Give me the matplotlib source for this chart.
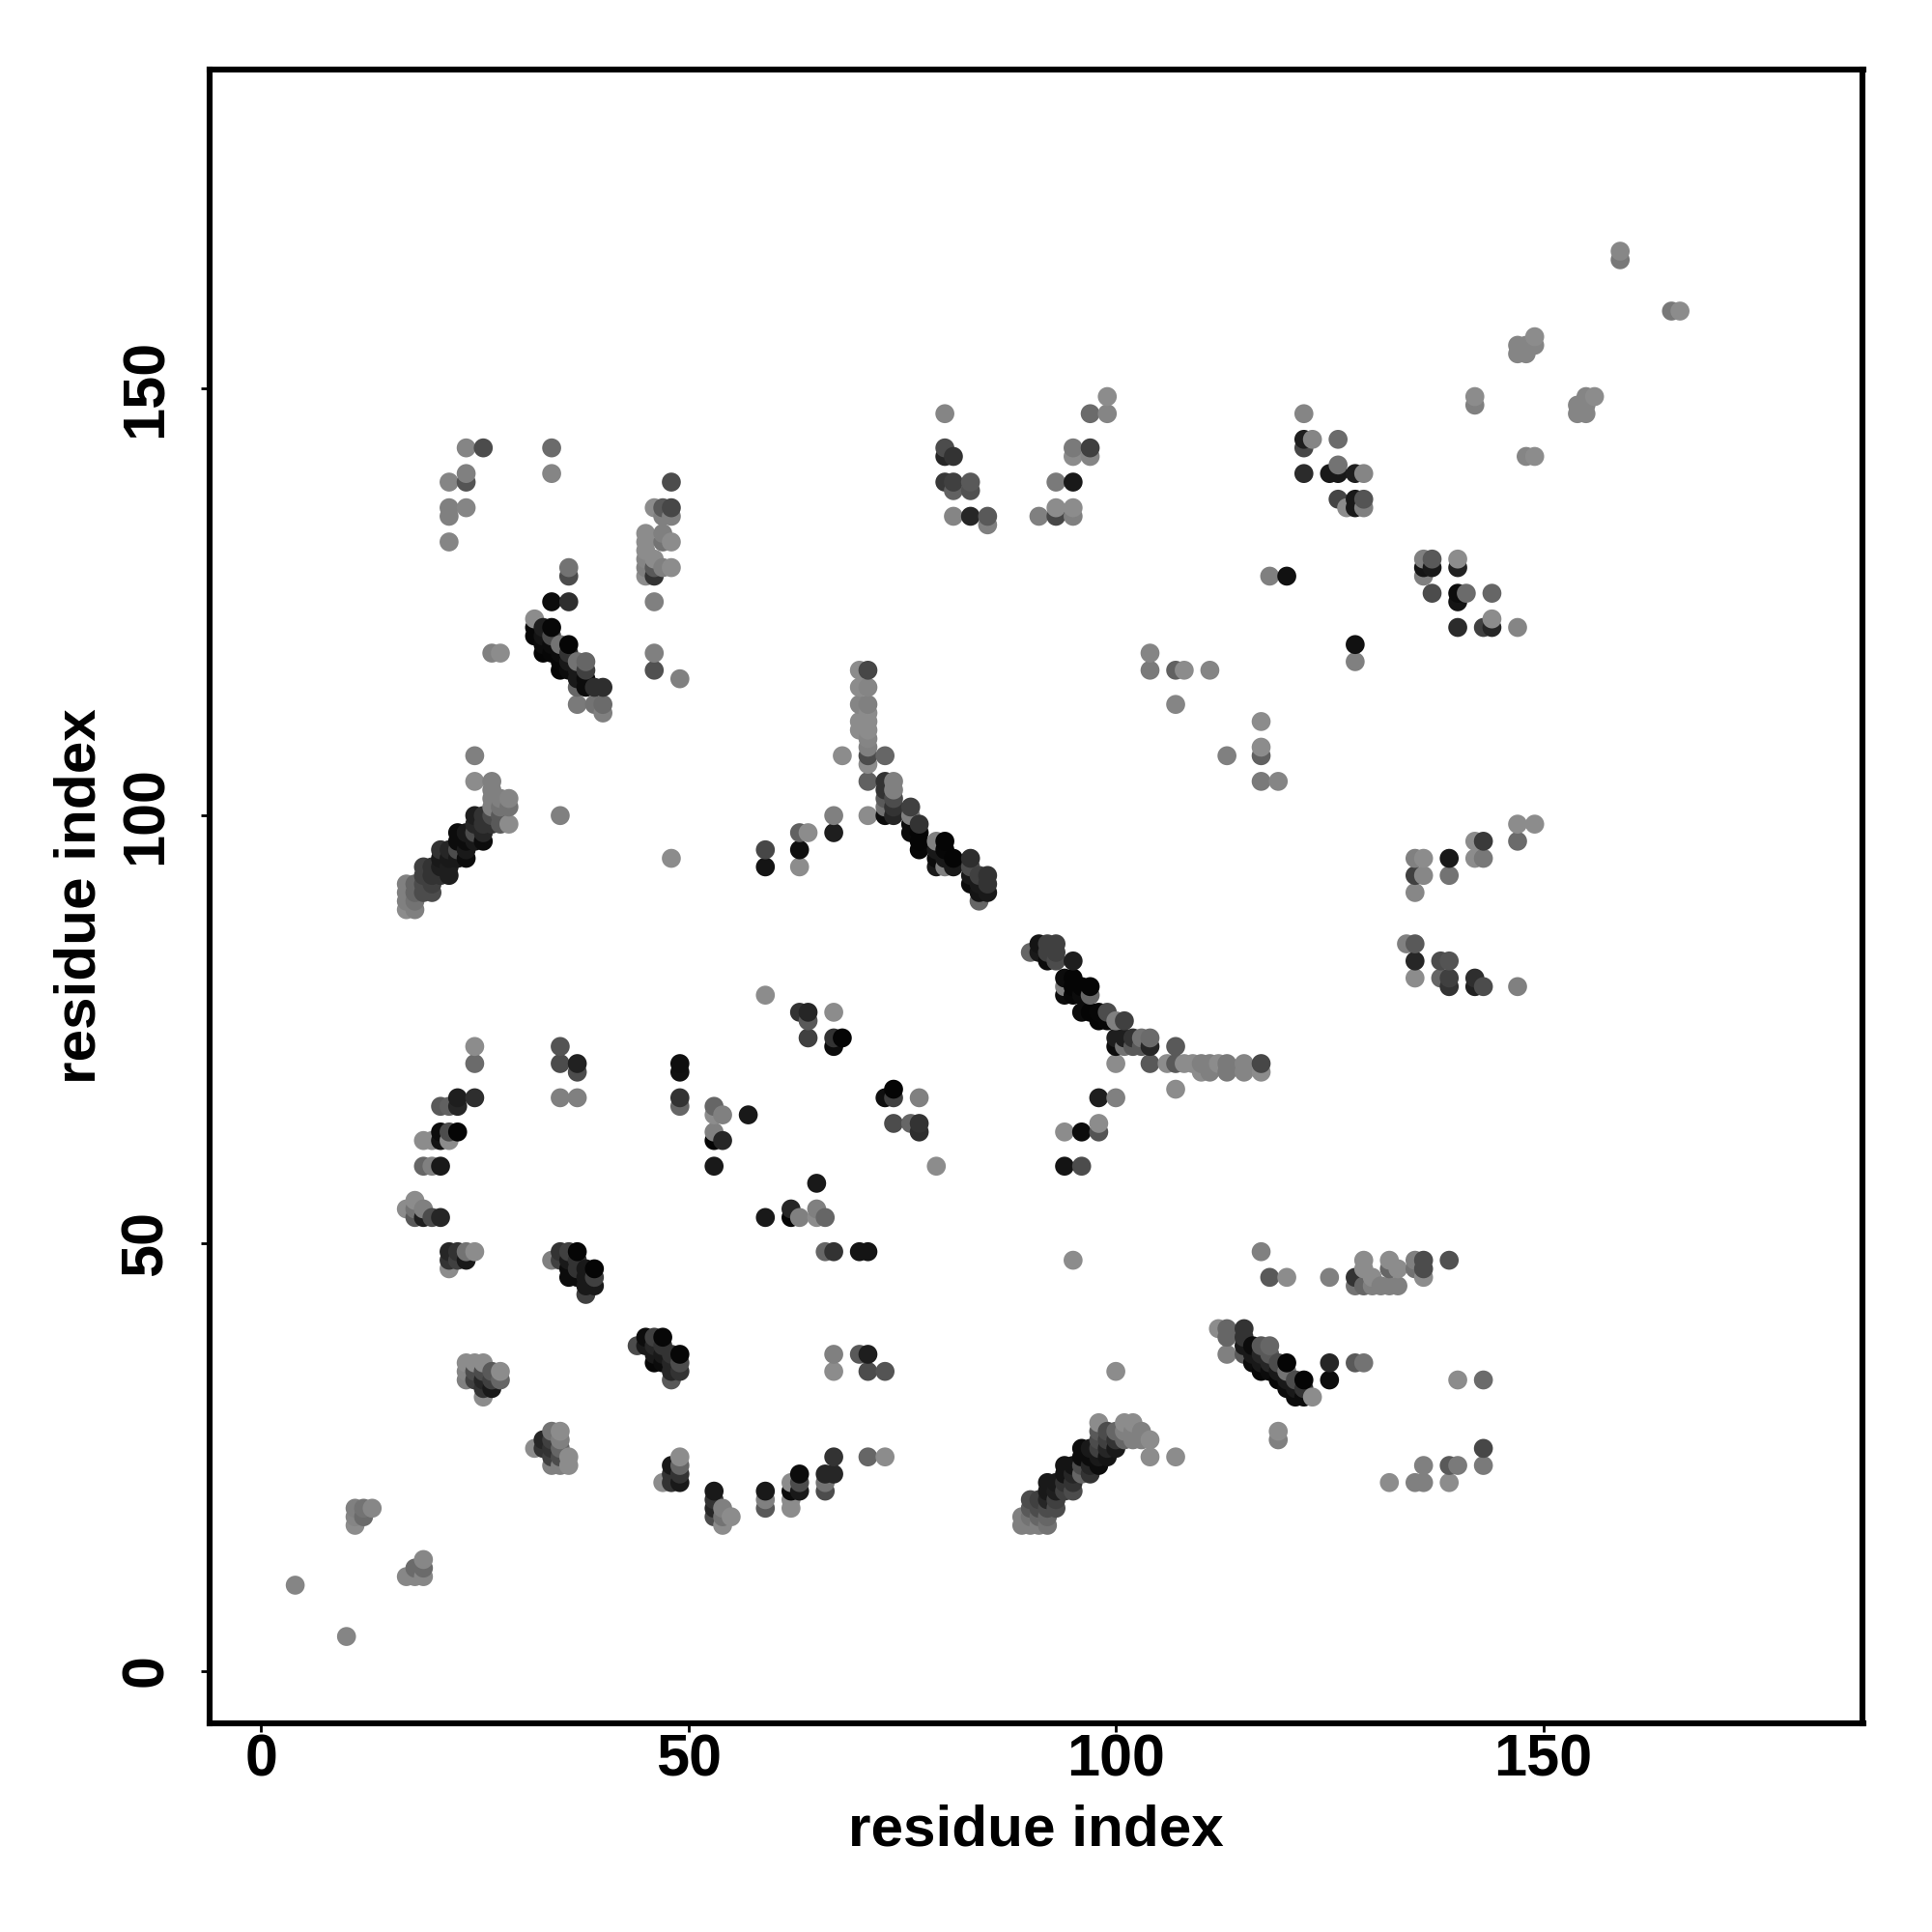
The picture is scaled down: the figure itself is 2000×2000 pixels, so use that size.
"""
Residue contact map, grey level = contact confidence
"""
import numpy as np
import matplotlib
matplotlib.use("Agg")
import matplotlib.pyplot as plt

plt.rcParams["font.family"] = ["Liberation Sans", "DejaVu Sans"]

# (residue i, residue j, grey level)
low_left = [(4,10,.52),(10,4,.52),(11,19,.5),(11,18,.52),(11,17,.55),(12,19,.45),(12,18,.42),(13,19,.53),
            (17,11,.53),(18,11,.53),(19,11,.53),(18,12,.42),(19,12,.42),(19,13,.53)]
strand_a = [(22,49,.15),(22,48,.2),(22,47,.55),(23,49,.2),(23,48,.25),(24,49,.45),(24,48,.1),(25,49,.55),
            (24,36,.55),(25,36,.55),(26,36,.55),(24,35,.52),(24,34,.5),(25,35,.3),(25,34,.25),
            (26,35,.3),(26,34,.15),(26,33,.2),(26,32,.55),(27,35,.35),(27,34,.25),(27,33,.1),(28,35,.55),(28,34,.4),
            (32,26,.55),(33,27,.15),(33,26,.2),(34,28,.45),(34,27,.25),(34,26,.2),(34,25,.25),(34,24,.5),
            (35,28,.55),(35,27,.5),(35,26,.4),(35,25,.3),(35,24,.5),(36,25,.55),(36,24,.55)]
strand_b = [(34,48,.5),(35,49,.2),(35,48,.25),(36,49,.25),(36,48,.1),(36,47,.05),(36,46,.05),(37,49,.02),
            (37,48,.2),(37,47,.2),(37,46,.05),(38,47,.1),(38,46,.1),(38,45,.1),(38,44,.25),(39,47,.02),(39,46,.25),(39,45,.1),
            (44,38,.3),(45,39,.05),(45,38,.1),(46,39,.25),(46,38,.15),(46,37,.1),(46,36,.03),(47,39,.03),(47,38,.2),
            (47,37,.1),(47,36,.05),(48,37,.2),(48,36,.15),(48,35,.15),(48,34,.35),(49,37,.03),(49,36,.3),(49,35,.2),
            (47,22,.55),(48,24,.1),(48,23,.2),(48,22,.2),(49,25,.55),(49,24,.4),(49,23,.2),(49,22,.1),
            (53,21,.1),(53,20,.2),(53,19,.15),(53,18,.3),(54,19,.5),(54,18,.45),(54,17,.55),(55,18,.55),
            (59,21,.1),(59,20,.5),(59,19,.35)]
mid_low = [(62,22,.55),(62,21,.05),(62,20,.55),(62,19,.55),(63,23,.05),(63,22,.3),(63,21,.1),
           (66,23,.15),(66,22,.45),(66,21,.3),(67,23,.15),(67,25,.2),(71,25,.4),(73,25,.55),
           (66,49,.4),(67,49,.2),(70,49,.08),(71,49,.08),(67,37,.5),(67,35,.55),(70,37,.35),(71,37,.12),(71,35,.3),(73,35,.33),
           (95,48,.55),(100,35,.55),(117,49,.5),(118,46,.35),(120,46,.55),(125,46,.5),(104,25,.55),(107,25,.55),
           (104,27,.55),(119,28,.55),(119,27,.5)]
helix_low = [(89,17,.5),(90,17,.5),(91,17,.5),(92,17,.45),(89,18,.5),(90,18,.45),(91,18,.4),(92,18,.4),
             (90,19,.35),(91,19,.3),(92,19,.3),(93,19,.3),(90,20,.3),(91,20,.25),(92,20,.15),(93,20,.25),
             (92,21,.1),(93,21,.12),(94,21,.25),(95,21,.3),(92,22,.1),(93,22,.1),(94,22,.2),(95,22,.2),
             (94,23,.08),(95,23,.15),(96,23,.4),(97,23,.2),(94,24,.08),(95,24,.08),(96,24,.3),(97,24,.15),(98,24,.05),
             (96,25,.05),(97,25,.05),(98,25,.1),(99,25,.08),(96,26,.05),(97,26,.1),(98,26,.25),(99,26,.15),(100,26,.1),
             (98,27,.3),(99,27,.25),(100,27,.2),(101,27,.4),(98,28,.35),(99,28,.3),(100,28,.4),(101,28,.5),
             (102,28,.5),(103,28,.5),(98,29,.55),(101,29,.55),(102,29,.55),(102,27,.5),(103,27,.5)]
strand_c = [(112,40,.55),(113,40,.4),(113,39,.4),(113,37,.5),(115,40,.2),(115,39,.2),(115,38,.1),(115,37,.35),
            (116,38,.05),(116,37,.1),(116,36,.05),(117,38,.35),(117,37,.15),(117,36,.1),(117,35,.03),
            (118,38,.4),(118,37,.35),(118,36,.15),(118,35,.05),(119,36,.3),(119,35,.1),(119,34,.03),
            (120,36,.02),(120,35,.45),(120,34,.1),(120,33,.05),(121,34,.3),(121,33,.1),(121,32,.05),
            (122,34,.02),(122,33,.2),(122,32,.05),(123,32,.55)]
low_right = [(125,36,.15),(125,34,.05),(128,36,.35),(129,36,.45),(140,34,.55),(143,34,.42),(143,26,.28),(143,24,.48),
             (140,24,.48),(139,24,.35),(136,24,.5),(136,22,.5),(135,22,.5),(132,22,.55),(139,22,.55),
             (128,46,.2),(128,45,.45),(129,48,.55),(129,47,.55),(129,45,.4),(130,46,.55),(130,45,.5),(131,45,.5),
             (132,48,.55),(132,47,.4),(132,45,.5),(133,47,.55),(133,45,.5),(135,48,.5),(135,47,.45),
             (136,48,.3),(136,47,.3),(136,46,.55),(139,48,.32)]
helix_up = [(17,89,.55),(18,89,.5),(17,90,.5),(18,90,.45),(17,91,.5),(18,91,.4),(19,91,.3),(20,91,.3),
            (17,92,.5),(18,92,.4),(19,92,.3),(20,92,.25),(19,93,.25),(20,93,.2),(21,93,.2),(22,93,.12),
            (19,94,.25),(20,94,.2),(21,94,.12),(22,94,.12),(21,95,.1),(22,95,.1),(23,95,.1),(24,95,.05),
            (21,96,.2),(22,96,.15),(23,96,.3),(24,96,.1),(23,97,.05),(24,97,.05),(25,97,.1),(26,97,.05),
            (23,98,.05),(24,98,.1),(25,98,.3),(26,98,.15),(25,99,.15),(26,99,.2),(27,99,.2),(28,99,.35),(29,99,.55),
            (25,100,.12),(26,100,.2),(27,100,.3),(28,100,.35),(27,101,.5),(28,101,.45),(29,101,.45),
            (27,102,.5),(28,102,.5),(29,102,.52),(27,103,.5),(27,104,.5),(25,104,.55),(25,107,.5),(35,100,.5),(48,95,.55)]
mid_up = [(59,96,.28),(59,94,.08),(63,98,.38),(64,98,.55),(63,96,.06),(63,94,.55),(67,100,.5),(67,98,.12),(71,100,.55),
          (59,79,.55),(63,77,.2),(64,77,.15),(64,76,.35),(64,74,.25),(67,77,.55),(67,74,.2),(68,74,.02),(67,73,.05),
          (25,73,.55),(25,71,.42),(35,73,.33),(35,71,.3),(37,71,.13),(37,70,.3),(49,71,.06),(49,70,.07),(49,67,.2),(49,66,.4),
          (35,67,.5),(37,67,.5),(25,67,.18),(23,67,.12),(23,66,.15),(21,66,.35),(22,66,.38),
          (21,63,.05),(21,62,.08),(22,63,.3),(22,62,.55),(23,63,.02),(19,62,.55),(20,62,.55),
          (19,59,.4),(20,59,.5),(21,59,.1),(17,54,.55),(18,55,.55),(19,54,.5),(18,53,.35),(19,53,.12),(20,53,.3),(21,53,.15),(18,54,.45),
          (53,66,.4),(54,65,.5),(53,65,.55),(57,65,.1),(53,63,.5),(53,62,.02),(54,62,.15),(53,59,.1),
          (65,57,.1),(59,53,.1),(62,54,.15),(62,53,.02),(63,53,.5),(65,54,.5),(65,53,.55),(66,53,.4)]
center = [(74,68,.02),(73,67,.06),(74,67,.25),(77,67,.5),(74,64,.3),(76,64,.4),(77,64,.2),(77,63,.18),(79,59,.55),
          (94,63,.55),(96,63,.05),(98,64,.55),(98,63,.33),(94,59,.08),(96,59,.3),(98,67,.12),(100,67,.5)]
tail = [(107,68,.55),(100,71,.55),(104,71,.35),(106,71,.55),(107,71,.35),(108,71,.55),(109,71,.55),(110,70,.55),(110,71,.5),
        (111,70,.5),(111,71,.5),(112,71,.55),(113,70,.48),(113,71,.48),(115,70,.52),(115,71,.52),(117,70,.55),(117,71,.28),(107,73,.35),
        (100,74,.12),(100,73,.05),(101,74,.12),(101,73,.45),(102,74,.2),(102,73,.35),(103,74,.45),(103,73,.35),(104,74,.42),(104,73,.15)]
helix_mid = [(96,77,.05),(97,77,.02),(98,76,.02),(98,77,.03),(99,77,.3),(99,76,.03),(100,76,.5),(101,76,.25),
             (94,81,.05),(94,80,.5),(94,79,.05),(95,81,.02),(95,80,.02),(95,79,.03),(96,80,.02),(96,79,.05),(97,80,.02),(97,79,.4),
             (90,84,.4),(91,85,.08),(91,84,.1),(92,85,.25),(92,84,.25),(92,83,.05),(93,85,.25),(93,84,.25),(93,83,.3),(95,83,.12)]
helix_diag = [(84,90,.4),(83,95,.18),(83,94,.3),(83,93,.1),(83,92,.05),(84,93,.25),(84,92,.1),(84,91,.08),(85,93,.2),(85,92,.2),(85,91,.1),
              (79,97,.5),(80,97,.02),(79,96,.1),(80,96,.03),(81,95,.02),(80,95,.1),(79,95,.05),(79,94,.1),(80,94,.5),(81,94,.1),
              (76,101,.25),(76,100,.5),(76,99,.05),(76,98,.05),(77,99,.2),(77,98,.02),(77,96,.03),(77,97,.02),
              (73,104,.2),(73,103,.2),(73,102,.35),(73,101,.45),(73,100,.05),(74,104,.5),(74,103,.5),(74,102,.3),(74,101,.2),(74,100,.15)]
column = [(70,117,.55),(71,117,.28),(70,115,.55),(71,115,.52),(70,113,.52),(71,113,.5),(70,111,.55),(70,110,.55),(71,112,.55),(71,111,.55),
          (71,110,.55),(71,109,.52),(71,108,.5),(71,107,.3),(71,106,.55),(68,107,.55),(73,107,.4),(71,104,.38)]
upper_left = [(24,143,.52),(26,143,.3),(34,143,.42),(34,140,.52),(24,140,.5),(24,139,.33),(22,139,.52),(22,136,.5),(22,135,.5),(24,136,.52),(22,132,.52),
              (36,129,.45),(36,128,.3),(34,125,.05),(36,125,.18),(32,123,.55),(27,119,.5),(28,119,.55),
              (46,125,.5),(46,119,.5),(46,117,.32),(49,116,.5),(48,139,.3),(46,136,.55),(47,136,.35),(48,136,.28),(47,135,.5),(48,135,.5),
              (45,133,.55),(47,133,.5),(47,132,.45),(48,132,.55),(45,132,.55),(45,131,.55),(45,130,.52),(45,129,.5),(45,128,.55),
              (46,130,.55),(46,129,.35),(46,128,.2),(47,129,.5),(48,129,.55)]
strand_d = [(34,122,.03),(33,122,.12),(32,122,.03),(32,121,.03),(33,121,.08),(34,121,.3),(33,120,.05),(34,120,.05),(35,120,.45),(36,120,.02),
            (33,119,.02),(34,119,.03),(35,119,.05),(36,119,.2),(35,118,.03),(36,118,.1),(37,118,.45),(38,118,.4),(35,117,.02),(36,117,.05),
            (37,117,.1),(38,117,.25),(37,116,.1),(38,116,.05),(37,115,.4),(38,115,.05),(39,115,.18),(40,115,.18),(37,113,.48),(39,113,.45),(40,113,.42),(40,112,.5)]
upper_mid = [(80,147,.52),(99,149,.55),(97,147,.42),(99,147,.52),(80,143,.3),(80,142,.15),(81,142,.2),(80,139,.22),(81,139,.25),(81,138,.38),
             (83,139,.35),(83,138,.32),(81,135,.52),(83,135,.15),(85,135,.35),(85,134,.5),(95,143,.48),(97,143,.25),(95,142,.55),(97,142,.52),
             (93,139,.48),(95,139,.1),(91,135,.5),(93,136,.55),(93,135,.28),(95,136,.55),(95,135,.5)]
upper_right = [(122,147,.52),(122,144,.12),(123,144,.52),(122,143,.28),(126,144,.42),(122,140,.17),(125,140,.1),(126,140,.1),(126,141,.45),
               (128,140,.12),(129,140,.52),(126,137,.27),(128,137,.1),(129,137,.33),(128,136,.1),(127,136,.55),(129,136,.5),
               (118,128,.5),(120,128,.07),(136,130,.5),(137,130,.35),(136,129,.08),(137,129,.1),(136,128,.5),(140,130,.55),(140,129,.13),
               (137,126,.3),(140,126,.05),(141,126,.42),(140,125,.08),(144,126,.4),(140,122,.17),(143,122,.25),(144,122,.15),(144,123,.55),(147,122,.52),
               (128,120,.07),(128,118,.5),(104,119,.52),(104,117,.48),(107,117,.38),(108,117,.55),(111,117,.52),(107,113,.52),
               (117,111,.55),(117,108,.55),(117,107,.38),(113,107,.5),(117,104,.48),(119,104,.52)]
right_mid = [(135,95,.5),(136,95,.55),(135,93,.25),(136,93,.53),(135,91,.53),(139,95,.1),(139,93,.45),(142,97,.55),(143,97,.23),(142,95,.55),(143,95,.47),
             (147,99,.55),(149,99,.55),(147,97,.42),(134,85,.5),(135,85,.35),(135,83,.15),(135,81,.55),(138,83,.3),(139,83,.33),(138,81,.4),(139,81,.25),
             (139,80,.2),(142,81,.18),(142,80,.13),(143,80,.3),(147,80,.5)]
top_right = [(159,166,.53),(159,165,.47),(165,159,.47),(166,159,.55),(149,156,.55),(149,155,.52),(147,155,.52),(148,155,.52),(147,154,.52),(148,154,.52),
             (142,149,.55),(142,148,.5),(154,148,.52),(154,147,.52),(155,149,.52),(156,149,.55),(155,148,.52),(155,147,.52),(148,142,.52),(149,142,.55)]

ticks = [0, 50, 100, 150]

contacts = np.array(low_left + strand_a + strand_b + mid_low + helix_low + strand_c + low_right + helix_up + mid_up
                    + center + tail + helix_mid + helix_diag + column + upper_left + strand_d + upper_mid
                    + upper_right + right_mid + top_right)
# later residues sit on top in the reference
order = np.lexsort((contacts[:, 1], contacts[:, 0]))
contacts = contacts[order]

fig = plt.figure(figsize=(10, 10), dpi=200)
ax = fig.add_axes([216.5 / 2000, 216.5 / 2000, 1712 / 2000, 1712 / 2000])
ax.scatter(contacts[:, 0], contacts[:, 1], c=contacts[:, 2], cmap="gray", vmin=0, vmax=1,
           s=50, linewidths=0, zorder=2)

ax.set_xlim(-6.07, 187.4)
ax.set_ylim(-6.1, 187.3)
ax.set_xticks(ticks)
ax.set_yticks(ticks)
ax.tick_params(axis="both", length=3.2, width=1, labelsize=22)
ax.tick_params(axis="x", pad=0.7)
ax.tick_params(axis="y", pad=9.7)
for lab in ax.get_xticklabels() + ax.get_yticklabels():
    lab.set_fontweight("bold")
for lab in ax.get_yticklabels():
    lab.set_rotation(90)
    lab.set_verticalalignment("center")
for sp in ax.spines.values():
    sp.set_linewidth(2.2)

ax.set_xlabel("residue index", fontsize=21.7, fontweight="bold")
ax.set_ylabel("residue index", fontsize=21.7, fontweight="bold")
ax.xaxis.set_label_coords(0.5, -0.049)
ax.yaxis.set_label_coords(-0.062, 0.5)

fig.savefig("out.png", dpi=200)
